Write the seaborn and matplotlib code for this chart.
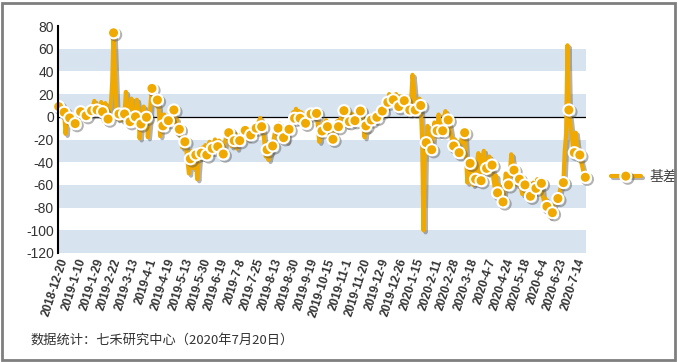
import matplotlib
matplotlib.use("Agg")
import matplotlib.pyplot as plt
import matplotlib.patheffects as pe
from matplotlib.patches import Rectangle
import numpy as np
import pandas as pd
import seaborn as sns

# daily basis values (every 4th point carries a marker)
basis = [
    9, 7, 5, 6, 4, -15, -3, 2, -1, -4, -8, -3, -6, 0, 3, 5,
    4.5, 2, -1, 3, 1, 4, 3, 6, 5.4, 9, 14, 8, 6, 10, 2, 13,
    4.5, -4, 12, 5, -2, 3, 10, 30, 74, 40, 8, -2, 2.5, 5, -3, 0,
    2.5, 22, 6, -6, -4.3, 16, -2, 5, 0, 15, 8, -19, -6.3, 4, 9, -2,
    -0.4, -18, -5, 12, 25, 20, 18, 10, 14.8, 8, -17, 2, -8, 2, -6, 0,
    -3.4, 1, 4, 8, 6, -5, -2, -15, -11, -16, -27, -25, -22, -28, -40, -50,
    -37, -30, -45, -35, -33.6, -55, -40, -28, -32, -27, -30, -25, -33.6, -27, -22, -30,
    -27.8, -24, -20, -29, -26.3, -21, -28, -25, -32.8, -24, -18, -12, -14, -18, -26, -22,
    -21, -15, -28, -19, -21, -15, -12, -17, -12, -14, -20, -18, -16, -12, -8, -13,
    -10, -6, -4, -1, -8.7, -12, -22, -35, -29, -38, -33, -28, -25.7, -18, -12, -8,
    -10, -6, -15, -20, -18.4, -14, -22, -12, -11, -8, -5, 4, -1.3, 7, 2, 5,
    -1.3, 4, 0, -3, -5.7, -2, -1, 4, 2.5, 0, 5, 6, 3, -8, -22, -15,
    -12.5, -5, -10, -3, -8.7, -14, -18, -12, -19.8, -16, -10, -4, -8.7, -2, -5, 6,
    5.4, 2, -8, -3, -4.3, 3, -6, 2, -3.4, 4, 1, 0, 5.1, 2, -5, -18,
    -8, -12, -5, 0, -2.8, 2, -4, 1, -0.4, 4, 0, 7, 5.1, 9, 6, 10,
    12.8, 20, 16, 18, 15, 17, 20, 12, 9, 18, 13, 17, 14.2, 8, 4, 12,
    6, 14, 37, 25, 6, 10, 8, 16, 10, -20, -100, -30, -22.8, -8, -18, -26,
    -29, -16, -5, -10, -12.3, 2, -8, -12, -12.3, 0, 5, 2, -2.8, -8, -15, -22,
    -25.7, -20, -30, -28, -31.6, -24, -18, -22, -14, -35, -58, -50, -41, -55, -60, -48,
    -55, -40, -32, -50, -56.3, -38, -30, -42, -45.4, -50, -35, -40, -42.5, -55, -62, -52,
    -67, -60, -70, -65, -75, -62, -50, -58, -60, -50, -33, -40, -47, -52, -60, -57,
    -55, -62, -68, -58, -60, -66, -72, -65, -70, -62, -58, -66, -63, -55, -60, -62,
    -58.6, -70, -75, -72, -79, -82, -88, -80, -84.5, -78, -72, -75, -72, -68, -62, -60,
    -58, -30, -15, 63, 6, -5, -15, -28, -31.6, -14, -25, -30, -33.6, -40, -45, -50,
    -53.3,
]

tick_labels = [
    "2018-12-20", "2019-1-10", "2019-1-29", "2019-2-22", "2019-3-13", "2019-4-1",
    "2019-4-19", "2019-5-13", "2019-5-30", "2019-6-19", "2019-7-8", "2019-7-25",
    "2019-8-13", "2019-8-30", "2019-9-19", "2019-10-15", "2019-11-1", "2019-11-20",
    "2019-12-9", "2019-12-26", "2020-1-15", "2020-2-11", "2020-2-28", "2020-3-18",
    "2020-4-7", "2020-4-24", "2020-5-18", "2020-6-4", "2020-6-23", "2020-7-14",
]
tick_step = 13

y_ticks = list(range(-120, 81, 20))

ORANGE = "#F0A900"
BAND = "#D7E3EF"

sns.set_theme(style="white")
plt.rcParams["font.family"] = ["Liberation Sans", "Noto Sans CJK SC", "DejaVu Sans"]

df = pd.DataFrame({"day": np.arange(len(basis)), "basis": basis})

W, H = 678, 362
fig = plt.figure(figsize=(W / 100, H / 100), dpi=100)
ax = fig.add_axes([58 / W, 1 - 253 / H, (586 - 58) / W, (253 - 26) / H])

# alternating horizontal bands
for lo in range(-120, 80, 40):
    ax.axhspan(lo, lo + 20, color=BAND, lw=0, zorder=0)
ax.axhline(0, color="black", lw=0.9, zorder=1)

shadow = [pe.SimpleLineShadow(offset=(1.5, -1.5), shadow_color="#555555", alpha=0.45),
          pe.Normal()]
sns.lineplot(
    data=df, x="day", y="basis", ax=ax,
    color=ORANGE, linewidth=3.0,
    marker="o", markevery=4, markersize=8, markerfacecolor=ORANGE,
    markeredgecolor="white", markeredgewidth=1.5,
    label="基差", path_effects=shadow, clip_on=False, zorder=3,
)

ax.set_xlim(-0.5, len(basis) - 0.5)
ax.set_ylim(-120, 80)
ax.set_yticks(y_ticks)
ax.set_yticklabels([str(v) for v in y_ticks], fontsize=10, color="#333333")
ax.set_xticks(np.arange(len(tick_labels)) * tick_step)
ax.set_xticklabels(tick_labels, rotation=72, ha="right", rotation_mode="anchor",
                   fontsize=8.5, fontweight="bold", color="#333333")
ax.tick_params(axis="both", length=0, pad=3)
ax.set_xlabel("")
ax.set_ylabel("")
for side in ["top", "right", "bottom"]:
    ax.spines[side].set_visible(False)
ax.spines["left"].set_color("black")
ax.spines["left"].set_linewidth(1.5)
ax.spines["left"].set_zorder(4)

leg = ax.legend(loc="center left", bbox_to_anchor=(598 / W, 1 - 177 / H),
                bbox_transform=fig.transFigure, frameon=False, fontsize=10,
                handlelength=2.2, handletextpad=0.6)
for t in leg.get_texts():
    t.set_color("#444444")
    t.set_family(["Noto Sans CJK SC", "DejaVu Sans"])

fig.text(30 / W, 1 - 340 / H, "数据统计：七禾研究中心（2020年7月20日）",
         fontsize=9.5, color="#333333", va="center",
         family=["Noto Sans CJK SC", "DejaVu Sans"])

fig.patches.append(Rectangle((2 / W, 2 / H), 1 - 5 / W, 1 - 5 / H,
                             transform=fig.transFigure, fill=False,
                             edgecolor="#7f7f7f", lw=2))

fig.savefig("out.png", dpi=100)
